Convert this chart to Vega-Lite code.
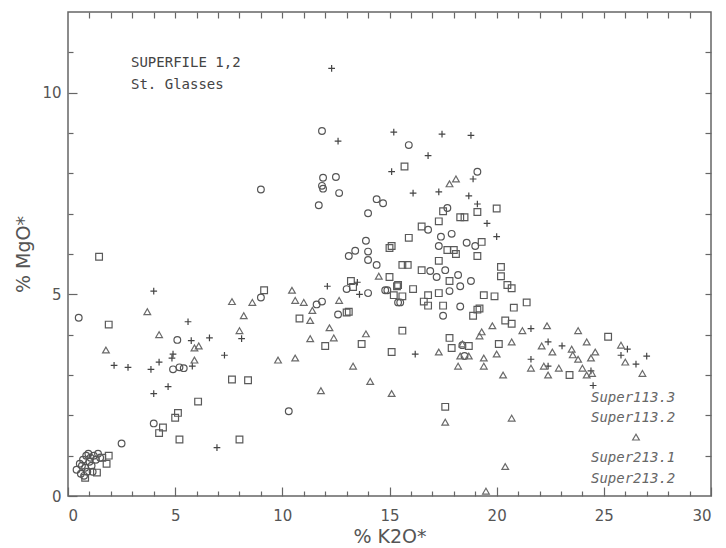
{
  "$schema": "https://vega.github.io/schema/vega-lite/v6.json",
  "width": 643,
  "height": 484,
  "autosize": {"type": "none"},
  "padding": {"left": 68, "top": 12, "right": 15, "bottom": 52},
  "background": "white",
  "config": {
    "view": {"stroke": "#666", "strokeWidth": 1.5},
    "axis": {"grid": false, "domain": false, "tickColor": "#666", "tickWidth": 1.2, "labelColor": "#555", "labelFont": "DejaVu Sans", "labelFontSize": 15, "titleColor": "#555", "titleFont": "DejaVu Sans", "titleFontWeight": "normal", "titleFontSize": 19}
  },
  "datasets": {
    "pts": [
      {"s": "Super113.3", "x": 0.5, "y": 4.42},
      {"s": "Super113.3", "x": 0.4, "y": 0.65},
      {"s": "Super113.3", "x": 0.55, "y": 0.8},
      {"s": "Super113.3", "x": 0.6, "y": 0.55},
      {"s": "Super113.3", "x": 0.7, "y": 0.9},
      {"s": "Super113.3", "x": 0.8, "y": 0.7},
      {"s": "Super113.3", "x": 0.85, "y": 1.0},
      {"s": "Super113.3", "x": 0.9, "y": 0.6},
      {"s": "Super113.3", "x": 1.0, "y": 0.85},
      {"s": "Super113.3", "x": 1.05, "y": 0.95},
      {"s": "Super113.3", "x": 1.1, "y": 0.75},
      {"s": "Super113.3", "x": 1.2, "y": 1.0},
      {"s": "Super113.3", "x": 1.3, "y": 0.9},
      {"s": "Super113.3", "x": 1.4, "y": 1.05},
      {"s": "Super113.3", "x": 0.75, "y": 0.5},
      {"s": "Super113.3", "x": 0.95, "y": 1.05},
      {"s": "Super113.3", "x": 1.15, "y": 0.6},
      {"s": "Super113.3", "x": 0.65, "y": 0.75},
      {"s": "Super113.3", "x": 1.5, "y": 0.95},
      {"s": "Super113.3", "x": 2.5, "y": 1.3},
      {"s": "Super113.3", "x": 4.0, "y": 1.8},
      {"s": "Super113.3", "x": 9.0, "y": 4.92},
      {"s": "Super113.3", "x": 5.1, "y": 3.87},
      {"s": "Super113.3", "x": 4.9, "y": 3.14},
      {"s": "Super113.3", "x": 5.2, "y": 3.19},
      {"s": "Super113.3", "x": 5.4, "y": 3.17},
      {"s": "Super113.3", "x": 10.3, "y": 2.1},
      {"s": "Super113.3", "x": 9.0, "y": 7.6},
      {"s": "Super113.3", "x": 11.85, "y": 9.05},
      {"s": "Super113.3", "x": 15.9, "y": 8.7},
      {"s": "Super113.3", "x": 11.9, "y": 7.89},
      {"s": "Super113.3", "x": 12.5, "y": 7.91},
      {"s": "Super113.3", "x": 11.85, "y": 7.69},
      {"s": "Super113.3", "x": 11.9, "y": 7.62},
      {"s": "Super113.3", "x": 12.65, "y": 7.51},
      {"s": "Super113.3", "x": 11.7, "y": 7.21},
      {"s": "Super113.3", "x": 14.4, "y": 7.36},
      {"s": "Super113.3", "x": 14.7, "y": 7.26},
      {"s": "Super113.3", "x": 14.0, "y": 7.01},
      {"s": "Super113.3", "x": 19.1, "y": 8.04},
      {"s": "Super113.3", "x": 17.7, "y": 7.14},
      {"s": "Super113.3", "x": 16.8, "y": 6.6},
      {"s": "Super113.3", "x": 17.9, "y": 6.5},
      {"s": "Super113.3", "x": 17.4, "y": 6.43},
      {"s": "Super113.3", "x": 17.3, "y": 6.2},
      {"s": "Super113.3", "x": 18.6, "y": 6.28},
      {"s": "Super113.3", "x": 19.0, "y": 6.2},
      {"s": "Super113.3", "x": 13.9, "y": 6.33},
      {"s": "Super113.3", "x": 13.4, "y": 6.08},
      {"s": "Super113.3", "x": 14.0, "y": 6.06},
      {"s": "Super113.3", "x": 13.1, "y": 5.95},
      {"s": "Super113.3", "x": 14.0, "y": 5.85},
      {"s": "Super113.3", "x": 14.4, "y": 5.73},
      {"s": "Super113.3", "x": 17.6, "y": 5.6},
      {"s": "Super113.3", "x": 16.9, "y": 5.58},
      {"s": "Super113.3", "x": 18.2, "y": 5.48},
      {"s": "Super113.3", "x": 17.2, "y": 5.43},
      {"s": "Super113.3", "x": 18.3, "y": 5.2},
      {"s": "Super113.3", "x": 17.8, "y": 5.08},
      {"s": "Super113.3", "x": 18.8, "y": 5.33},
      {"s": "Super113.3", "x": 15.5, "y": 4.8},
      {"s": "Super113.3", "x": 14.9, "y": 5.1},
      {"s": "Super113.3", "x": 17.5, "y": 4.47},
      {"s": "Super113.3", "x": 18.3, "y": 4.7},
      {"s": "Super113.3", "x": 13.0, "y": 5.13},
      {"s": "Super113.3", "x": 14.0, "y": 5.03},
      {"s": "Super113.3", "x": 14.8, "y": 5.1},
      {"s": "Super113.3", "x": 11.6, "y": 4.75},
      {"s": "Super113.3", "x": 11.85, "y": 4.82},
      {"s": "Super113.3", "x": 12.6, "y": 4.5},
      {"s": "Super113.3", "x": 15.4, "y": 4.8},
      {"s": "Super113.3", "x": 18.5, "y": 3.47},
      {"s": "Super113.3", "x": 18.4, "y": 3.74},

      {"s": "Super113.2", "x": 1.45, "y": 5.93},
      {"s": "Super113.2", "x": 1.9, "y": 4.25},
      {"s": "Super113.2", "x": 1.9, "y": 1.0},
      {"s": "Super113.2", "x": 1.35, "y": 0.58},
      {"s": "Super113.2", "x": 0.8, "y": 0.45},
      {"s": "Super113.2", "x": 1.8, "y": 0.8},
      {"s": "Super113.2", "x": 1.6, "y": 0.95},
      {"s": "Super113.2", "x": 4.43, "y": 1.7},
      {"s": "Super113.2", "x": 4.25, "y": 1.56},
      {"s": "Super113.2", "x": 9.15, "y": 5.1},
      {"s": "Super113.2", "x": 7.65, "y": 2.89},
      {"s": "Super113.2", "x": 8.4, "y": 2.87},
      {"s": "Super113.2", "x": 6.07, "y": 2.34},
      {"s": "Super113.2", "x": 5.13, "y": 2.06},
      {"s": "Super113.2", "x": 5.0, "y": 1.94},
      {"s": "Super113.2", "x": 5.2, "y": 1.4},
      {"s": "Super113.2", "x": 8.0, "y": 1.4},
      {"s": "Super113.2", "x": 15.7, "y": 8.17},
      {"s": "Super113.2", "x": 17.5, "y": 7.06},
      {"s": "Super113.2", "x": 17.3, "y": 6.81},
      {"s": "Super113.2", "x": 18.3, "y": 6.91},
      {"s": "Super113.2", "x": 18.5, "y": 6.91},
      {"s": "Super113.2", "x": 19.1, "y": 7.04},
      {"s": "Super113.2", "x": 16.5, "y": 6.68},
      {"s": "Super113.2", "x": 15.9, "y": 6.4},
      {"s": "Super113.2", "x": 15.1, "y": 6.2},
      {"s": "Super113.2", "x": 19.3, "y": 6.3},
      {"s": "Super113.2", "x": 17.7, "y": 6.1},
      {"s": "Super113.2", "x": 18.0, "y": 6.1},
      {"s": "Super113.2", "x": 18.1, "y": 6.0},
      {"s": "Super113.2", "x": 19.1, "y": 5.95},
      {"s": "Super113.2", "x": 20.0, "y": 7.13},
      {"s": "Super113.2", "x": 17.3, "y": 5.83},
      {"s": "Super113.2", "x": 15.6, "y": 5.73},
      {"s": "Super113.2", "x": 15.85, "y": 5.73},
      {"s": "Super113.2", "x": 16.5, "y": 5.6},
      {"s": "Super113.2", "x": 15.0, "y": 5.43},
      {"s": "Super113.2", "x": 15.4, "y": 5.23},
      {"s": "Super113.2", "x": 16.1, "y": 5.13},
      {"s": "Super113.2", "x": 15.2, "y": 4.98},
      {"s": "Super113.2", "x": 15.6, "y": 4.95},
      {"s": "Super113.2", "x": 17.3, "y": 5.03},
      {"s": "Super113.2", "x": 16.8, "y": 4.98},
      {"s": "Super113.2", "x": 16.6, "y": 4.82},
      {"s": "Super113.2", "x": 16.8, "y": 4.72},
      {"s": "Super113.2", "x": 17.5, "y": 4.72},
      {"s": "Super113.2", "x": 17.8, "y": 5.33},
      {"s": "Super113.2", "x": 20.2, "y": 5.68},
      {"s": "Super113.2", "x": 20.2, "y": 5.45},
      {"s": "Super113.2", "x": 20.5, "y": 5.23},
      {"s": "Super113.2", "x": 20.7, "y": 5.15},
      {"s": "Super113.2", "x": 19.9, "y": 4.95},
      {"s": "Super113.2", "x": 19.4, "y": 4.98},
      {"s": "Super113.2", "x": 20.8, "y": 4.67},
      {"s": "Super113.2", "x": 21.4, "y": 4.8},
      {"s": "Super113.2", "x": 19.1, "y": 4.62},
      {"s": "Super113.2", "x": 20.4, "y": 4.35},
      {"s": "Super113.2", "x": 20.7, "y": 4.27},
      {"s": "Super113.2", "x": 15.6, "y": 4.1},
      {"s": "Super113.2", "x": 17.8, "y": 3.92},
      {"s": "Super113.2", "x": 18.7, "y": 3.72},
      {"s": "Super113.2", "x": 17.9, "y": 3.67},
      {"s": "Super113.2", "x": 20.1, "y": 3.77},
      {"s": "Super113.2", "x": 15.1, "y": 3.57},
      {"s": "Super113.2", "x": 15.0, "y": 6.15},
      {"s": "Super113.2", "x": 13.2, "y": 5.33},
      {"s": "Super113.2", "x": 13.3, "y": 5.18},
      {"s": "Super113.2", "x": 15.35, "y": 5.2},
      {"s": "Super113.2", "x": 13.1, "y": 4.57},
      {"s": "Super113.2", "x": 13.0, "y": 4.55},
      {"s": "Super113.2", "x": 10.8, "y": 4.4},
      {"s": "Super113.2", "x": 12.0, "y": 3.72},
      {"s": "Super113.2", "x": 13.7, "y": 3.77},
      {"s": "Super113.2", "x": 18.9, "y": 4.47},
      {"s": "Super113.2", "x": 19.2, "y": 4.65},
      {"s": "Super113.2", "x": 17.6, "y": 2.21},
      {"s": "Super113.2", "x": 25.2, "y": 3.95},
      {"s": "Super113.2", "x": 23.4, "y": 3.0},

      {"s": "Super213.1", "x": 4.0, "y": 5.08},
      {"s": "Super213.1", "x": 5.6, "y": 4.32},
      {"s": "Super213.1", "x": 5.75, "y": 3.85},
      {"s": "Super213.1", "x": 6.6, "y": 3.92},
      {"s": "Super213.1", "x": 8.1, "y": 3.9},
      {"s": "Super213.1", "x": 4.9, "y": 3.52},
      {"s": "Super213.1", "x": 4.85, "y": 3.42},
      {"s": "Super213.1", "x": 4.25, "y": 3.32},
      {"s": "Super213.1", "x": 5.8, "y": 3.22},
      {"s": "Super213.1", "x": 2.15, "y": 3.24},
      {"s": "Super213.1", "x": 2.8, "y": 3.19},
      {"s": "Super213.1", "x": 3.87, "y": 3.14},
      {"s": "Super213.1", "x": 7.3, "y": 3.49},
      {"s": "Super213.1", "x": 4.67, "y": 2.71},
      {"s": "Super213.1", "x": 4.0, "y": 2.54},
      {"s": "Super213.1", "x": 6.95, "y": 1.2},
      {"s": "Super213.1", "x": 12.3, "y": 10.6},
      {"s": "Super213.1", "x": 12.6, "y": 8.8},
      {"s": "Super213.1", "x": 15.2, "y": 9.02},
      {"s": "Super213.1", "x": 17.45, "y": 8.97},
      {"s": "Super213.1", "x": 18.8, "y": 8.94},
      {"s": "Super213.1", "x": 16.8, "y": 8.44},
      {"s": "Super213.1", "x": 15.1, "y": 8.04},
      {"s": "Super213.1", "x": 18.9, "y": 7.86},
      {"s": "Super213.1", "x": 16.1, "y": 7.51},
      {"s": "Super213.1", "x": 17.3, "y": 7.54},
      {"s": "Super213.1", "x": 18.7, "y": 7.44},
      {"s": "Super213.1", "x": 19.1, "y": 7.24},
      {"s": "Super213.1", "x": 19.55, "y": 6.76},
      {"s": "Super213.1", "x": 20.0, "y": 6.43},
      {"s": "Super213.1", "x": 16.2, "y": 3.52},
      {"s": "Super213.1", "x": 12.1, "y": 5.2},
      {"s": "Super213.1", "x": 13.5, "y": 5.3},
      {"s": "Super213.1", "x": 13.6, "y": 5.0},
      {"s": "Super213.1", "x": 21.6, "y": 4.15},
      {"s": "Super213.1", "x": 21.6, "y": 3.39},
      {"s": "Super213.1", "x": 22.4, "y": 3.82},
      {"s": "Super213.1", "x": 23.05, "y": 3.72},
      {"s": "Super213.1", "x": 22.4, "y": 3.22},
      {"s": "Super213.1", "x": 26.1, "y": 3.64},
      {"s": "Super213.1", "x": 25.8, "y": 3.49},
      {"s": "Super213.1", "x": 27.0, "y": 3.47},
      {"s": "Super213.1", "x": 26.5, "y": 3.27},
      {"s": "Super213.1", "x": 24.5, "y": 2.74},
      {"s": "Super213.1", "x": 24.4, "y": 3.1},

      {"s": "Super213.2", "x": 1.77, "y": 3.62},
      {"s": "Super213.2", "x": 3.7, "y": 4.57},
      {"s": "Super213.2", "x": 4.25, "y": 4.0},
      {"s": "Super213.2", "x": 5.9, "y": 3.67},
      {"s": "Super213.2", "x": 6.1, "y": 3.72},
      {"s": "Super213.2", "x": 5.9, "y": 3.37},
      {"s": "Super213.2", "x": 7.65, "y": 4.82},
      {"s": "Super213.2", "x": 8.6, "y": 4.8},
      {"s": "Super213.2", "x": 8.2, "y": 4.47},
      {"s": "Super213.2", "x": 8.0, "y": 4.1},
      {"s": "Super213.2", "x": 10.45, "y": 5.1},
      {"s": "Super213.2", "x": 10.6, "y": 4.85},
      {"s": "Super213.2", "x": 9.8, "y": 3.37},
      {"s": "Super213.2", "x": 10.6, "y": 3.42},
      {"s": "Super213.2", "x": 11.0, "y": 4.8},
      {"s": "Super213.2", "x": 11.4, "y": 4.6},
      {"s": "Super213.2", "x": 12.65, "y": 4.85},
      {"s": "Super213.2", "x": 11.3, "y": 4.35},
      {"s": "Super213.2", "x": 12.2, "y": 4.17},
      {"s": "Super213.2", "x": 12.4, "y": 3.92},
      {"s": "Super213.2", "x": 11.3, "y": 3.9},
      {"s": "Super213.2", "x": 13.9, "y": 4.02},
      {"s": "Super213.2", "x": 13.3, "y": 3.22},
      {"s": "Super213.2", "x": 14.1, "y": 2.84},
      {"s": "Super213.2", "x": 11.8, "y": 2.61},
      {"s": "Super213.2", "x": 15.1, "y": 2.54},
      {"s": "Super213.2", "x": 14.5, "y": 5.45},
      {"s": "Super213.2", "x": 19.8, "y": 4.22},
      {"s": "Super213.2", "x": 17.3, "y": 3.57},
      {"s": "Super213.2", "x": 18.2, "y": 3.22},
      {"s": "Super213.2", "x": 18.3, "y": 3.47},
      {"s": "Super213.2", "x": 18.7, "y": 3.47},
      {"s": "Super213.2", "x": 19.4, "y": 3.42},
      {"s": "Super213.2", "x": 19.4, "y": 3.22},
      {"s": "Super213.2", "x": 19.2, "y": 3.97},
      {"s": "Super213.2", "x": 19.3, "y": 4.07},
      {"s": "Super213.2", "x": 20.0, "y": 3.52},
      {"s": "Super213.2", "x": 20.3, "y": 3.0},
      {"s": "Super213.2", "x": 20.7, "y": 3.82},
      {"s": "Super213.2", "x": 21.2, "y": 4.1},
      {"s": "Super213.2", "x": 22.35, "y": 4.22},
      {"s": "Super213.2", "x": 22.6, "y": 3.57},
      {"s": "Super213.2", "x": 22.1, "y": 3.72},
      {"s": "Super213.2", "x": 21.6, "y": 3.17},
      {"s": "Super213.2", "x": 22.2, "y": 3.22},
      {"s": "Super213.2", "x": 22.4, "y": 3.0},
      {"s": "Super213.2", "x": 17.6, "y": 1.83},
      {"s": "Super213.2", "x": 20.7, "y": 1.93},
      {"s": "Super213.2", "x": 20.4, "y": 0.73},
      {"s": "Super213.2", "x": 17.8, "y": 7.74},
      {"s": "Super213.2", "x": 18.1, "y": 7.86},
      {"s": "Super213.2", "x": 18.4, "y": 3.77},
      {"s": "Super213.2", "x": 23.8, "y": 4.1},
      {"s": "Super213.2", "x": 24.2, "y": 3.82},
      {"s": "Super213.2", "x": 23.5, "y": 3.64},
      {"s": "Super213.2", "x": 23.55, "y": 3.5},
      {"s": "Super213.2", "x": 23.8, "y": 3.39},
      {"s": "Super213.2", "x": 24.4, "y": 3.42},
      {"s": "Super213.2", "x": 24.6, "y": 3.57},
      {"s": "Super213.2", "x": 25.8, "y": 3.74},
      {"s": "Super213.2", "x": 26.0, "y": 3.32},
      {"s": "Super213.2", "x": 26.8, "y": 3.04},
      {"s": "Super213.2", "x": 22.9, "y": 3.17},
      {"s": "Super213.2", "x": 24.0, "y": 3.17},
      {"s": "Super213.2", "x": 24.2, "y": 3.0},
      {"s": "Super213.2", "x": 24.45, "y": 3.04},
      {"s": "Super213.2", "x": 26.5, "y": 1.46},
      {"s": "Super213.2", "x": 19.5, "y": 0.12}
    ],
    "notes": [
      {"t": "SUPERFILE 1,2", "x": 2.94, "y": 10.73},
      {"t": "St. Glasses", "x": 2.94, "y": 10.18}
    ],
    "keys": [
      {"t": "Super113.3", "x": 24.4, "y": 2.44},
      {"t": "Super113.2", "x": 24.4, "y": 1.93},
      {"t": "Super213.1", "x": 24.4, "y": 0.95},
      {"t": "Super213.2", "x": 24.4, "y": 0.43}
    ]
  },
  "layer": [
    {
      "data": {"name": "pts"},
      "mark": {"type": "point", "filled": false, "strokeWidth": 1.2, "opacity": 1},
      "encoding": {
        "x": {"field": "x", "type": "quantitative", "scale": {"domain": [0, 30], "nice": false, "zero": false},
              "axis": {"orient": "bottom", "values": [0, 5, 10, 15, 20, 25, 30], "offset": -9, "tickSize": 9, "labelPadding": 12, "title": "% K2O*", "titlePadding": 4}},
        "y": {"field": "y", "type": "quantitative", "scale": {"domain": [0, 12], "nice": false, "zero": false},
              "axis": {"orient": "left", "values": [0, 5, 10], "offset": -9, "tickSize": 9, "labelPadding": 7, "title": "% MgO*", "titlePadding": 8}},
        "shape": {"field": "s", "type": "nominal", "legend": null,
                  "scale": {"domain": ["Super113.3", "Super113.2", "Super213.1", "Super213.2"],
                            "range": ["circle", "square", "M-1,0L1,0M0,-1L0,1", "triangle-up"]}},
        "color": {"field": "s", "type": "nominal", "legend": null,
                  "scale": {"domain": ["Super113.3", "Super113.2", "Super213.1", "Super213.2"],
                            "range": ["#555555", "#5a5a5a", "#444444", "#6a6a6a"]}},
        "size": {"field": "s", "type": "nominal", "legend": null,
                 "scale": {"domain": ["Super113.3", "Super113.2", "Super213.1", "Super213.2"],
                           "range": [45, 45, 60, 34]}}
      }
    },
    {
      "data": {"name": "notes"},
      "mark": {"type": "text", "align": "left", "baseline": "middle", "font": "DejaVu Sans Mono", "fontSize": 14, "color": "#444"},
      "encoding": {
        "x": {"field": "x", "type": "quantitative", "scale": {"domain": [0, 30], "nice": false, "zero": false},
              "axis": {"orient": "bottom", "values": [1,2,3,4,6,7,8,9,11,12,13,14,16,17,18,19,21,22,23,24,26,27,28,29], "offset": -5, "tickSize": 5, "labels": false, "title": null}},
        "y": {"field": "y", "type": "quantitative", "scale": {"domain": [0, 12], "nice": false, "zero": false},
              "axis": {"orient": "left", "values": [1,2,3,4,6,7,8,9,11], "offset": -5, "tickSize": 5, "labels": false, "title": null}},
        "text": {"field": "t"}
      }
    },
    {
      "data": {"name": "keys"},
      "mark": {"type": "text", "align": "left", "baseline": "middle", "font": "DejaVu Sans Mono", "fontStyle": "italic", "fontSize": 14, "color": "#666"},
      "encoding": {
        "x": {"field": "x", "type": "quantitative", "scale": {"domain": [0, 30], "nice": false, "zero": false},
              "axis": {"orient": "top", "values": [1,2,3,4,5,6,7,8,9,10,11,12,13,14,15,16,17,18,19,20,21,22,23,24,25,26,27,28,29], "offset": -6, "tickSize": 6, "labels": false, "title": null}},
        "y": {"field": "y", "type": "quantitative", "scale": {"domain": [0, 12], "nice": false, "zero": false},
              "axis": {"orient": "right", "values": [1,2,3,4,5,6,7,8,9,10,11], "offset": -6, "tickSize": 6, "labels": false, "title": null}},
        "text": {"field": "t"}
      }
    }
  ],
  "resolve": {"scale": {"x": "independent", "y": "independent"}}
}
